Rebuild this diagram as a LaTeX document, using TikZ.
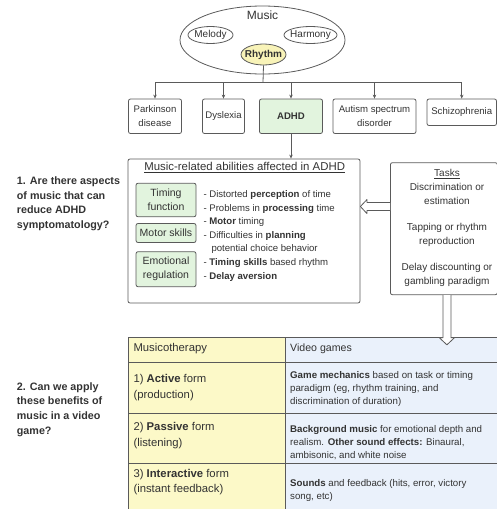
\documentclass[tikz,border=0pt]{standalone}
\usepackage{fontspec}
\setmainfont{Liberation Sans}
\usetikzlibrary{shapes.geometric,arrows.meta,positioning}
\definecolor{linegray}{HTML}{5A5A5A}
\definecolor{txtgray}{HTML}{333333}
\definecolor{rhythmyellow}{HTML}{F8F3B8}
\definecolor{adhdgreen}{HTML}{E2F4DE}
\definecolor{tabyellow}{HTML}{FCF9C8}
\definecolor{tabblue}{HTML}{EAF1FB}
\begin{document}
\begin{tikzpicture}[x=1pt,y=-1pt,
    every node/.style={text=txtgray},
    box/.style={draw=linegray, line width=0.8pt, rounded corners=2pt, inner sep=1pt, align=center, font=\fontsize{9.6}{14}\selectfont},
    greenbox/.style={box, fill=adhdgreen, font=\fontsize{10.5}{14}\selectfont},
    bubble/.style={draw=linegray, line width=0.8pt, ellipse, inner sep=0pt, font=\fontsize{10}{12}\selectfont},
    link/.style={draw=linegray, line width=0.8pt},
    tip/.style={link, -{Stealth[length=4pt,width=3.5pt]}},
    hollow/.style={draw=linegray, line width=0.8pt, fill=white, line join=round},
    question/.style={anchor=west, align=left, inner sep=0pt, font=\fontsize{10.75}{14.7}\selectfont\bfseries},
    cellL/.style={anchor=west, align=left, inner sep=0pt, font=\fontsize{11.3}{15.5}\selectfont},
    cellR/.style={anchor=west, align=left, inner sep=0pt, font=\fontsize{9.7}{13}\selectfont}]

\useasboundingbox (0,0) rectangle (497,509);

% music and its parts
\node[bubble, minimum width=165, minimum height=68] (music) at (262.5,40) {};
\node[font=\fontsize{12}{14}\selectfont] (musiclabel) at (262.5,15) {Music};
\node[bubble, minimum width=45, minimum height=17] (melody) at (210.5,35) {\makebox[0pt]{Melody}};
\node[bubble, minimum width=53, minimum height=17] (harmony) at (310.5,35) {\makebox[0pt]{Harmony}};
\node[bubble, fill=rhythmyellow, minimum width=45, minimum height=21, font=\fontsize{10}{12}\selectfont\bfseries] (rhythm) at (263.5,54.5) {\makebox[0pt]{Rhythm}};

% disorders
\node[box, minimum width=53, minimum height=34.5] (park) at (155,116.25) {Parkinson\\disease};
\node[box, minimum width=42, minimum height=34.5] (dys) at (223.5,116.25) {Dyslexia};
\node[box, fill=adhdgreen, minimum width=63, minimum height=34.5, font=\fontsize{9.6}{14}\selectfont\bfseries] (adhd) at (291,116.25) {ADHD};
\node[box, minimum width=83, minimum height=34.5] (autism) at (374.5,116.25) {Autism spectrum\\disorder};
\node[box, minimum width=69.5, minimum height=26.5] (schizo) at (461.75,112.25) {Schizophrenia};

\coordinate (bus) at (263,82.5);
\draw[link] (rhythm.south) -- (bus);
\draw[link] (bus -| park.north) -- (bus -| schizo.north);
\foreach \d in {park,dys,adhd,autism,schizo}
    \draw[tip] (bus -| \d.north) -- (\d.north);

% abilities affected in ADHD
\node[box, minimum width=232, minimum height=144] (abilities) at (244,231) {};
\node[font=\fontsize{11.4}{13}\selectfont] (abiltitle) at (244.7,167.3) {\underline{Music-related abilities affected in ADHD}};
\draw[tip] (adhd.south) -- (adhd.south |- abilities.north);

\node[greenbox, minimum width=60, minimum height=33.5] (timing) at (166,200) {Timing\\function};
\node[greenbox, minimum width=60, minimum height=19] (motor) at (166,233) {Motor skills};
\node[greenbox, minimum width=60, minimum height=35] (emotion) at (166,269.2) {Emotional\\regulation};

\node[anchor=west, align=left, inner sep=0pt, font=\fontsize{9.6}{13.6}\selectfont] (deficits) at (203.3,235.9)
    {- Distorted \textbf{perception} of time\\
     - Problems in \textbf{processing} time\\
     - \textbf{Motor} timing\\
     - Difficulties in \textbf{planning}\\
     \hspace*{8pt}potential choice behavior\\
     - \textbf{Timing skills} based rhythm\\
     - \textbf{Delay aversion}};

% tasks
\node[box, minimum width=107, minimum height=132, anchor=north west] (tasks) at (390,162.3) {};
\node[align=center, font=\fontsize{10}{14}\selectfont] (taskstext) at (447,227.8)
    {\underline{Tasks}\\Discrimination or\\estimation\\[12pt]Tapping or rhythm\\reproduction\\[12pt]Delay discounting or\\gambling paradigm};

\draw[hollow] (tasks.west |- 0,202.5) -- ++(-23,0) -- ++(0,-3) -- (abilities.east |- 0,206.5)
    -- ++(6.5,7) -- ++(0,-3) -- (tasks.west |- 0,210.5);

% questions
\node[question] (q1) at (16.7,203.8) {1. Are there aspects\\of music that can\\reduce ADHD\\symptomatology?};
\node[question] (q2) at (16.7,409.5) {2. Can we apply\\these benefits of\\music in a video\\game?};

% table
\fill[tabyellow] (128.3,337) rectangle (285,512);
\fill[tabblue] (285,337) rectangle (500,512);
\draw[link] (500,337) -- (128.3,337) -- (128.3,512);
\draw[link] (285,337) -- (285,512);
\foreach \y in {362.3,413.3,463.3}
    \draw[link] (128.3,\y) -- (500,\y);

\node[cellL] (musicotherapy) at (133.3,348.3) {Musicotherapy};
\node[cellR, font=\fontsize{10.6}{13}\selectfont] (videogames) at (290,348.3) {Video games};
\node[cellL] (active) at (133.3,387.5) {1) \textbf{Active} form\\(production)};
\node[cellL] (passive) at (133.3,435.7) {2) \textbf{Passive} form\\(listening)};
\node[cellL] (interactive) at (133.3,482) {3) \textbf{Interactive} form\\(instant feedback)};
\node[cellR] (mechanics) at (290,388.7) {\textbf{Game mechanics} based on task or timing\\paradigm (eg, rhythm training, and\\discrimination of duration)};
\node[cellR] (background) at (290,442.2) {\textbf{Background music} for emotional depth and\\realism. \textbf{Other sound effects:} Binaural,\\ambisonic, and white noise};
\node[cellR] (sounds) at (290,490) {\textbf{Sounds} and feedback (hits, error, victory\\song, etc)};

\draw[hollow] ([xshift=-1pt]tasks.south) -- ++(0,42.7) -- ++(-3.5,0) -- ++(7.5,7) -- ++(7.5,-7)
    -- ++(-3.5,0) -- ++(0,-42.7);
\end{tikzpicture}
\end{document}
